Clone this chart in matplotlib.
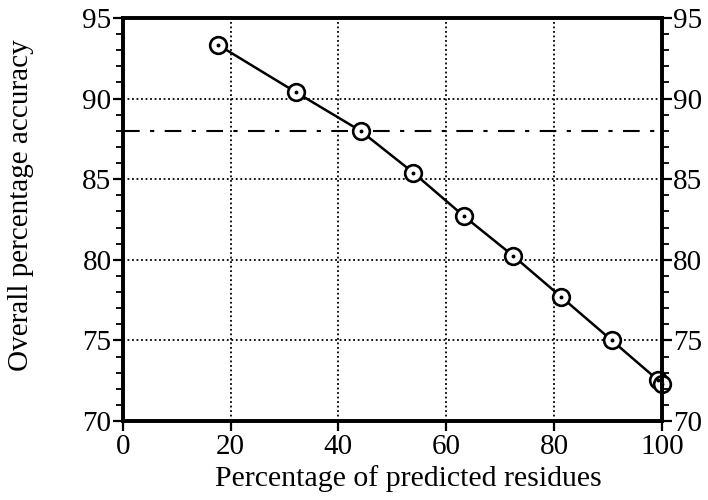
import matplotlib
matplotlib.use("Agg")
import matplotlib.pyplot as plt
from matplotlib.ticker import MultipleLocator

plt.rcParams['font.family'] = ['Liberation Serif', 'DejaVu Serif']

# Data
pct_predicted = [17.6, 32.1, 44.1, 53.9, 63.3, 72.4, 81.3, 90.7, 99.2, 100.0]
accuracy = [93.35, 90.4, 88.0, 85.4, 82.7, 80.25, 77.7, 75.0, 72.55, 72.3]
reference_level = 88.0

x_ticks = [0, 20, 40, 60, 80, 100]
y_ticks = [70, 75, 80, 85, 90, 95]
x_label = "Percentage of predicted residues"
y_label = "Overall percentage accuracy"

fig = plt.figure(figsize=(7.08, 5.0), dpi=100)
ax = fig.add_axes([0.1733, 0.158, 0.935 - 0.1733, 0.964 - 0.158])

ax.set_xlim(0, 100)
ax.set_ylim(70, 95)

ax.grid(True, which='major', color='black', linestyle=(0, (1, 1.5)), linewidth=1.3)
ax.axhline(reference_level, color='black', linestyle=(0, (8, 5, 2, 5)), linewidth=1.5, zorder=2)

ax.plot(pct_predicted, accuracy, color='black', linewidth=1.8, zorder=3)
ax.plot(pct_predicted, accuracy, linestyle='none', marker='o', markersize=12,
        markerfacecolor='white', markeredgecolor='black', markeredgewidth=1.9, zorder=4,
        clip_on=False)
ax.plot(pct_predicted, accuracy, linestyle='none', marker='o', markersize=1.8,
        color='black', zorder=5, clip_on=False)

ax.set_xticks(x_ticks)
ax.set_yticks(y_ticks)
ax.yaxis.set_minor_locator(MultipleLocator(1))
ax.tick_params(axis='both', which='major', direction='out', length=7, width=1.6,
               labelsize=21, pad=1)
ax.tick_params(axis='y', which='minor', direction='out', length=5, width=1.3)
ax.tick_params(axis='x', pad=2)

for s in ax.spines.values():
    s.set_linewidth(2.6)
    s.set_zorder(6)

ax2 = ax.twinx()
ax2.set_ylim(70, 95)
ax2.set_yticks(y_ticks)
ax2.yaxis.set_minor_locator(MultipleLocator(1))
ax2.tick_params(axis='y', which='major', direction='out', length=7, width=1.6,
                labelsize=21, pad=1)
ax2.tick_params(axis='y', which='minor', direction='out', length=5, width=1.3)
for s in ax2.spines.values():
    s.set_linewidth(2.6)

ax.set_xlabel(x_label, fontsize=21.5)
ax.set_ylabel(y_label, fontsize=21)
ax.xaxis.set_label_coords(0.529, -0.11)
ax.yaxis.set_label_coords(-0.165, 0.536)

fig.savefig("out.png", dpi=100)
